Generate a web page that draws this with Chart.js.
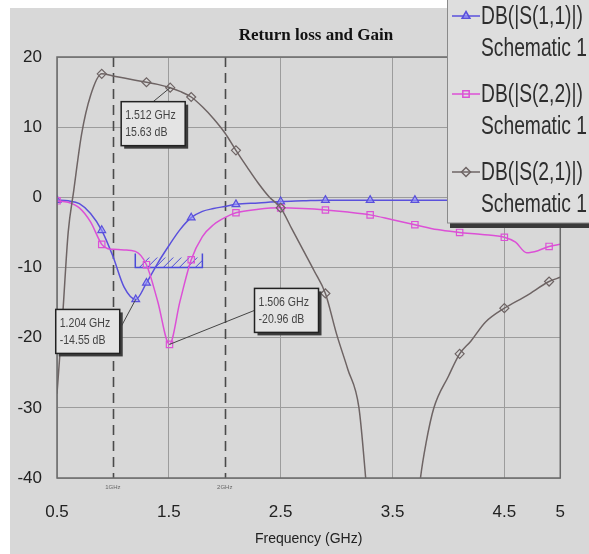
<!DOCTYPE html>
<html>
<head>
<meta charset="utf-8">
<script src="https://cdn.jsdelivr.net/npm/chart.js@4.4.0/dist/chart.umd.min.js"></script>
<style>
  html, body { margin: 0; padding: 0; background: #fff; }
  #wrap { width: 589px; height: 554px; }
</style>
</head>
<body>
<div id="wrap"><canvas id="returnLoss" width="589" height="554"></canvas></div>
<script>
'use strict'
/*-----data-----*/
var xTicks = [0.5, 1.5, 2.5, 3.5, 4.5, 5];
var markerLines = [1, 2];
var markerLineLabels = ['1GHz', '2GHz'];
var markerFreqs = [0.5, 0.9, 1.3, 1.7, 2.1, 2.5, 2.9, 3.3, 3.7, 4.1, 4.5, 4.9];
var markerFreqsS21 = [0.9, 1.3, 1.7, 2.1, 2.5, 2.9, 3.3, 3.7, 4.1, 4.5, 4.9];

var freqS11 = [0.5, 0.6, 0.7, 0.8, 0.9, 1.0, 1.1, 1.204, 1.3, 1.4, 1.5, 1.6, 1.7, 1.8, 1.9, 2.0, 2.1, 2.3, 2.5, 2.7, 2.9, 3.1, 3.3, 3.5, 3.7, 3.9, 4.1, 4.3, 4.5, 4.7, 4.9, 5.0];
var s11 = [-0.4, -0.5, -0.9, -2.3, -4.7, -8.4, -12.8, -14.55, -12.2, -9.4, -6.9, -4.6, -2.9, -2.0, -1.6, -1.3, -1.0, -0.8, -0.6, -0.5, -0.4, -0.4, -0.4, -0.4, -0.4, -0.4, -0.4, -0.4, -0.4, -0.4, -0.4, -0.4];

var freqS22 = [0.5, 0.6, 0.7, 0.8, 0.9, 0.95, 1.0, 1.1, 1.2, 1.3, 1.4, 1.506, 1.6, 1.7, 1.8, 1.9, 2.0, 2.1, 2.3, 2.5, 2.7, 2.9, 3.1, 3.3, 3.5, 3.7, 3.9, 4.1, 4.3, 4.5, 4.6, 4.7, 4.8, 4.9, 5.0];
var s22 = [-0.5, -0.7, -1.5, -3.5, -6.7, -7.3, -7.4, -7.5, -7.7, -9.6, -14.8, -20.96, -14.8, -8.9, -5.6, -3.9, -2.9, -2.2, -1.7, -1.5, -1.6, -1.8, -2.1, -2.5, -3.2, -3.9, -4.6, -5.0, -5.3, -5.7, -6.4, -7.9, -7.6, -7.0, -6.7];

var freqS21 = [0.5, 0.55, 0.6, 0.65, 0.72, 0.8, 0.9, 1.0, 1.1, 1.2, 1.3, 1.4, 1.512, 1.6, 1.7, 1.8, 1.9, 2.0, 2.1, 2.2, 2.3, 2.4, 2.5, 2.6, 2.7, 2.8, 2.9, 3.0, 3.1, 3.2, 3.26, 3.3, 3.5, 3.7, 3.75, 3.8, 3.87, 4.0, 4.1, 4.2, 4.33, 4.5, 4.7, 4.9, 5.0];
var s21 = [-28, -17, -5, 1, 9, 14.5, 17.6, 17.3, 17.0, 16.7, 16.4, 16.1, 15.63, 15.1, 14.3, 12.9, 11.2, 9.2, 6.7, 4.3, 2.0, 0, -1.5, -4.5, -7.5, -10.5, -13.7, -19.5, -24.5, -30, -40, -48, -60, -48, -40, -35, -30, -25.5, -22.3, -20.5, -17.8, -15.8, -14, -12, -11.4];

var goalFreq = [1.2, 1.8];
var goalLevel = -10;

var seriesNames = ['DB(|S(1,1)|)', 'DB(|S(2,2)|)', 'DB(|S(2,1)|)'];
var seriesSub = 'Schematic 1';
var seriesColors = ['#5a50dc', '#dc50d6', '#6e6464'];
var seriesStyles = ['triangle', 'rect', 'rectRot'];
var seriesFill = ['rgba(150,150,255,0.6)', 'rgba(0,0,0,0)', 'rgba(0,0,0,0)'];

var notes = [
	{ ds: 0, f: 1.204, db: -14.55, dx: -80, dy: 10, anchor: [1, 0.45] },
	{ ds: 1, f: 1.506, db: -20.96, dx: 85, dy: -56, anchor: [0, 0.5] },
	{ ds: 2, f: 1.512, db: 15.63, dx: -49, dy: 14, anchor: [0.5, 0] }
];

function pts(fs, vs) {
	return fs.map(function(f, i) { return { x: f, y: vs[i] }; });
}
function isMarked(list, v) {
	return list.concat(notes.map(function(n) { return n.f; })).some(function(m) { return Math.abs(m - v) < 1e-6; });
}

/*-----overlay plugin-----*/
var overlay = {
	id: 'overlay',
	beforeDraw: function(chart) {
		var ctx = chart.ctx;
		ctx.save();
		ctx.fillStyle = '#fff';
		ctx.fillRect(0, 0, chart.width, chart.height);
		ctx.fillStyle = '#d8d8d8';
		ctx.fillRect(10, 8, chart.width - 10, chart.height - 8);
		ctx.restore();
	},
	beforeDatasetsDraw: function(chart) {
		var ctx = chart.ctx, a = chart.chartArea, x = chart.scales.x, y = chart.scales.y;
		ctx.save();
		ctx.strokeStyle = '#4a4a4a';
		ctx.lineWidth = 1.6;
		ctx.setLineDash([10, 6]);
		markerLines.forEach(function(f) {
			var px = Math.round(x.getPixelForValue(f)) + 0.5;
			ctx.beginPath(); ctx.moveTo(px, a.top); ctx.lineTo(px, a.bottom); ctx.stroke();
		});
		ctx.setLineDash([]);
		ctx.font = '6px "Liberation Sans"';
		ctx.fillStyle = '#666';
		ctx.textAlign = 'center';
		markerLines.forEach(function(f, i) {
			ctx.fillText(markerLineLabels[i], x.getPixelForValue(f), a.bottom + 11);
		});
		// goal hatch
		var x0 = x.getPixelForValue(goalFreq[0]), x1 = x.getPixelForValue(goalFreq[1]);
		var gy = y.getPixelForValue(goalLevel);
		ctx.strokeStyle = '#4a4ad8';
		ctx.lineWidth = 1.5;
		ctx.beginPath();
		ctx.moveTo(x0, gy - 14); ctx.lineTo(x0, gy); ctx.lineTo(x1, gy); ctx.lineTo(x1, gy - 14);
		ctx.stroke();
		ctx.lineWidth = 1;
		ctx.beginPath();
		for (var hx = x0 + 4; hx < x1; hx += 8) {
			ctx.moveTo(hx, gy); ctx.lineTo(Math.min(hx + 10, x1), gy - 10 * Math.min(1, (x1 - hx) / 10));
		}
		ctx.stroke();
		ctx.restore();
	},
	afterDatasetsDraw: function(chart) {
		var ctx = chart.ctx, a = chart.chartArea, x = chart.scales.x, y = chart.scales.y;
		ctx.save();
		// frame
		ctx.strokeStyle = '#6a6a6a';
		ctx.lineWidth = 1.5;
		ctx.strokeRect(a.left, a.top, a.right - a.left, a.bottom - a.top);

		// marker notes
		notes.forEach(function(n) {
			var px = x.getPixelForValue(n.f), py = y.getPixelForValue(n.db);
			var bx = px + n.dx, by = py + n.dy, bw = 64, bh = 44;
			ctx.strokeStyle = '#444';
			ctx.lineWidth = 1;
			ctx.beginPath();
			ctx.moveTo(px, py);
			ctx.lineTo(bx + bw * n.anchor[0], by + bh * n.anchor[1]);
			ctx.stroke();
			ctx.fillStyle = '#3c3c3c';
			ctx.fillRect(bx + 3, by + 3, bw, bh);
			ctx.fillStyle = '#e4e4e4';
			ctx.fillRect(bx, by, bw, bh);
			ctx.strokeStyle = '#222';
			ctx.lineWidth = 1.5;
			ctx.strokeRect(bx, by, bw, bh);
			ctx.fillStyle = '#444';
			ctx.font = '12px "Liberation Sans"';
			ctx.textAlign = 'left';
			ctx.textBaseline = 'middle';
			ctx.save();
			ctx.translate(bx + 4, by);
			ctx.scale(0.88, 1);
			ctx.fillText(n.f.toFixed(3) + ' GHz', 0, 14);
			ctx.fillText(n.db.toFixed(2) + ' dB', 0, 31);
			ctx.restore();
		});

		// legend
		var lx = 447, ly = 0, lw = 160, lh = 223;
		ctx.fillStyle = '#3a3a3a';
		ctx.fillRect(lx + 3, ly + 4, lw, lh + 1);
		ctx.fillStyle = '#dedede';
		ctx.fillRect(lx, ly, lw, lh);
		ctx.strokeStyle = '#8a8a8a';
		ctx.lineWidth = 1;
		ctx.strokeRect(lx + 0.5, ly - 2, lw, lh + 2);
		var rows = [16, 94, 172];
		seriesNames.forEach(function(name, i) {
			var ry = rows[i];
			ctx.strokeStyle = seriesColors[i];
			ctx.lineWidth = 1.5;
			ctx.beginPath(); ctx.moveTo(452, ry); ctx.lineTo(480, ry); ctx.stroke();
			ctx.fillStyle = seriesFill[i];
			Chart.helpers.drawPoint(ctx, { pointStyle: seriesStyles[i], radius: 4.5, borderWidth: 1.2, rotation: 0 }, 466, ry);
			ctx.fillStyle = '#2e2e2e';
			ctx.font = '26px "Liberation Sans"';
			ctx.textAlign = 'left';
			ctx.textBaseline = 'middle';
			ctx.save();
			ctx.translate(481, 0);
			ctx.scale(0.74, 1);
			ctx.fillText(name, 0, ry + 1);
			ctx.fillText(seriesSub, 0, ry + 33);
			ctx.restore();
		});

		// title
		ctx.fillStyle = '#111';
		ctx.font = 'bold 17px "Liberation Serif"';
		ctx.textAlign = 'center';
		ctx.textBaseline = 'middle';
		ctx.fillText('Return loss and Gain', 316, 36);
		ctx.restore();
	}
};

function makeSet(i, fs, vs, marks) {
	return {
		label: seriesNames[i],
		data: pts(fs, vs),
		borderColor: seriesColors[i],
		borderWidth: 1.5,
		pointStyle: seriesStyles[i],
		pointBorderColor: seriesColors[i],
		pointBackgroundColor: seriesFill[i],
		pointBorderWidth: 1.2,
		pointRadius: function(c) { return isMarked(marks, c.raw.x) ? 4.5 : 0; },
		cubicInterpolationMode: 'monotone'
	};
}

/*-----ReturnLossChart-----*/
var ctx = document.getElementById('returnLoss');
var myChart = new Chart(ctx, {
	type: 'line',
	data: {
		datasets: [
			makeSet(2, freqS21, s21, markerFreqsS21),
			makeSet(1, freqS22, s22, markerFreqs),
			makeSet(0, freqS11, s11, markerFreqs)
		]
	},
	options: {
		responsive: false,
		animation: false,
		layout: { padding: { left: 0, right: 12, top: 57, bottom: 0 } },
		plugins: { legend: { display: false }, tooltip: { enabled: false } },
		scales: {
			x: {
				type: 'linear',
				min: 0.5,
				max: 5,
				afterBuildTicks: function(s) { s.ticks = xTicks.map(function(v) { return { value: v }; }); },
				afterFit: function(s) { s.height = 76; },
				grid: { color: '#9c9c9c', lineWidth: 1, drawTicks: false },
				border: { display: false },
				ticks: {
					padding: 24,
					maxRotation: 0,
					autoSkip: false,
					color: '#222',
					font: { family: 'Liberation Sans', size: 17 },
					callback: function(v) { return String(v); }
				},
				title: {
					display: true,
					text: 'Frequency (GHz)',
					color: '#222',
					font: { family: 'Liberation Sans', size: 14 },
					padding: { top: 0, bottom: 6 }
				}
			},
			y: {
				min: -40,
				max: 20,
				afterFit: function(s) { s.width = 57; },
				grid: { color: '#9c9c9c', lineWidth: 1, drawTicks: false },
				border: { display: false },
				ticks: {
					stepSize: 10,
					padding: 15,
					color: '#222',
					font: { family: 'Liberation Sans', size: 17 }
				}
			}
		}
	},
	plugins: [overlay]
});
</script>
</body>
</html>
